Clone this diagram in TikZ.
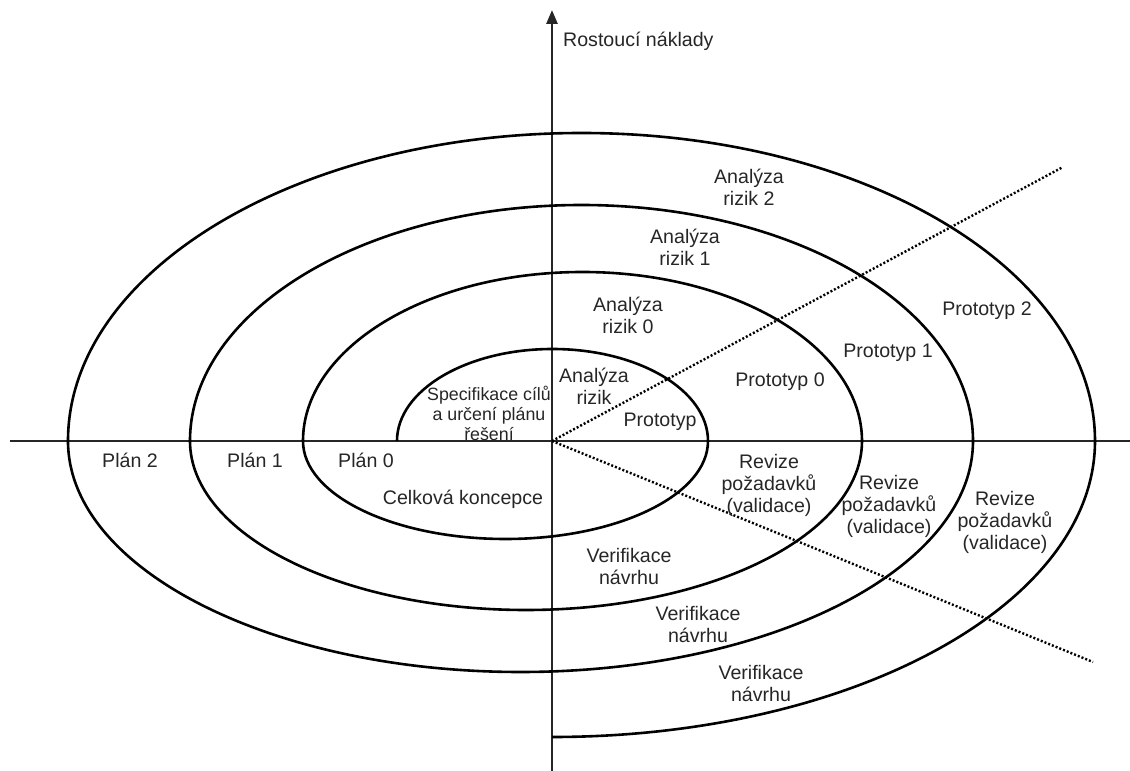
\documentclass[tikz,border=0pt]{standalone}
\usepackage{fontspec}
\setmainfont{Liberation Sans}
\usetikzlibrary{arrows.meta}

\begin{document}
\begin{tikzpicture}[
    x=1pt, y=1pt,
    every node/.style={font=\fontsize{19.6}{22}\selectfont, align=center, inner sep=0pt, text=black!85},
    axis/.style={line width=2.6pt, black!85},
    spiral/.style={line width=2.6pt},
    sector/.style={line width=2.4pt, dash pattern=on 2pt off 2pt},
    small/.style={font=\fontsize{17.8}{20}\selectfont},
  ]
  \useasboundingbox (-552,-330) rectangle (578,441);

  % Axis end points
  \coordinate (O) at (0,0);
  \coordinate (west) at (-542,0);
  \coordinate (east) at (578,0);
  \coordinate (south) at (0,-330);
  \coordinate (north) at (0,431);
  \coordinate (ne) at (511,274);
  \coordinate (se) at (541,-221);

  % Axes
  \draw[axis] (west) -- (east);
  \draw[axis, -{Triangle[length=14pt, width=11pt]}] (south) -- (north);

  % Sector borders (dotted)
  \draw[sector] (O) -- (ne);
  \draw[sector] (O) -- (se);

  % Spiral, half ellipses
  \draw[spiral] (-155,0)
    arc[start angle=180, end angle=0, x radius=155.5, y radius=92]
    arc[start angle=0, end angle=-180, x radius=202.5, y radius=98]
    arc[start angle=180, end angle=0, x radius=279.5, y radius=169]
    arc[start angle=0, end angle=-180, x radius=336, y radius=169]
    arc[start angle=180, end angle=0, x radius=391.5, y radius=236]
    arc[start angle=0, end angle=-180, x radius=452.5, y radius=231]
    arc[start angle=180, end angle=0, x radius=513.5, y radius=308]
    arc[start angle=0, end angle=-90, x radius=543, y radius=296];

  % Axis label
  \node[anchor=base west] (cost) at (11,394) {Rostoucí náklady};

  % Upper left quadrant
  \node[small] (spec) at (-63,28) {Specifikace cílů\\a určení plánu\\řešení};

  % Upper right quadrant
  \node (ana) at (42,55) {Analýza\\rizik};
  \node (ana0) at (76,126) {Analýza\\rizik 0};
  \node (ana1) at (133,194) {Analýza\\rizik 1};
  \node (ana2) at (197,254) {Analýza\\rizik 2};
  \node (proto) at (108,19) {Prototyp};
  \node (proto0) at (228,59) {Prototyp 0};
  \node (proto1) at (336,88) {Prototyp 1};
  \node (proto2) at (435,130) {Prototyp 2};

  % Lower left quadrant
  \node (plan0) at (-186,-19) {Plán 0};
  \node (plan1) at (-297,-19) {Plán 1};
  \node (plan2) at (-422,-19) {Plán 2};
  \node (concept) at (-89,-58) {Celková koncepce};

  % Lower right quadrant
  \node (rev0) at (217,-44) {Revize\\požadavků\\(validace)};
  \node (rev1) at (337,-65) {Revize\\požadavků\\(validace)};
  \node (rev2) at (453,-81) {Revize\\požadavků\\(validace)};
  \node (ver0) at (77,-125) {Verifikace\\návrhu};
  \node (ver1) at (146,-183) {Verifikace\\návrhu};
  \node (ver2) at (209,-242) {Verifikace\\návrhu};
\end{tikzpicture}
\end{document}
